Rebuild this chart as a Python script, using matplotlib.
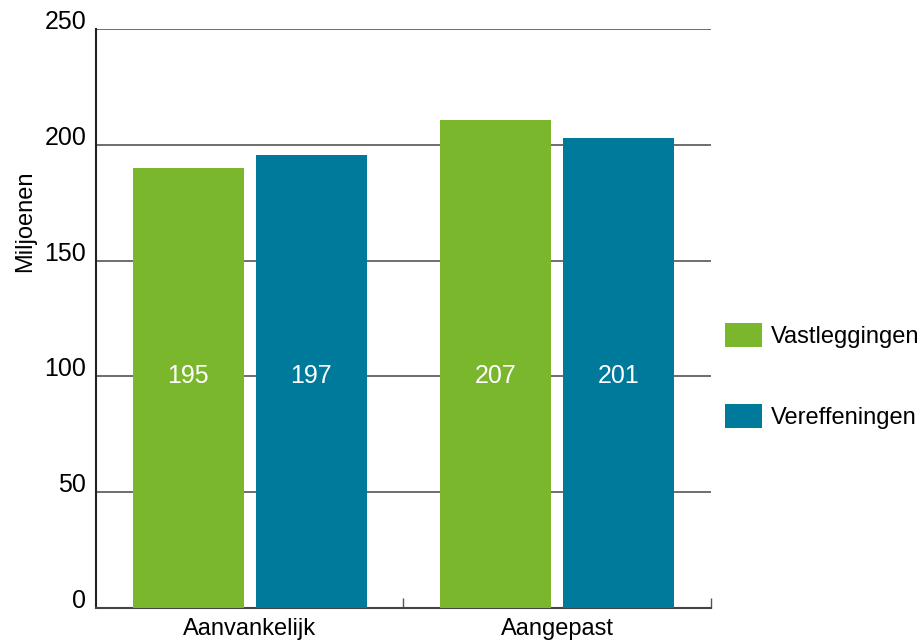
import matplotlib.pyplot as plt
import numpy as np

plt.rcParams['font.family'] = ['Liberation Sans', 'DejaVu Sans']

# Data
categories = ['Aanvankelijk', 'Aangepast']
series = ['Vastleggingen', 'Vereffeningen']
# bar heights as drawn in the chart
heights_vast = [190, 210.5]
heights_veref = [195.5, 203]
# value labels as printed in the bars
labels_vast = ['195', '207']
labels_veref = ['197', '201']
yticks = [0, 50, 100, 150, 200, 250]

green = '#7AB72C'
blue = '#007A9B'

fig = plt.figure(figsize=(9.2, 6.42), dpi=100)
ax = fig.add_axes([96 / 920, 34 / 642, 615 / 920, 579 / 642])

x = np.arange(len(categories))
w = 0.36
b1 = ax.bar(x - 0.2, heights_vast, w, color=green, label=series[0], zorder=3)
b2 = ax.bar(x + 0.2, heights_veref, w, color=blue, label=series[1], zorder=3)

# value labels in the middle of the bars
for bars, labs in [(b1, labels_vast), (b2, labels_veref)]:
    for rect, lab in zip(bars, labs):
        ax.text(rect.get_x() + rect.get_width() / 2, 100, lab, color='white',
                ha='center', va='center', fontsize=18, zorder=4)

ax.set_xlim(-0.5, 1.5)
ax.set_ylim(0, 250)
ax.set_yticks(yticks)
ax.yaxis.grid(True, color='#555555', linewidth=1.2, zorder=0)
ax.set_xticks(x)
ax.set_xticklabels(categories, fontsize=17)
ax.set_xticks([0.5, 1.5], minor=True)
ax.tick_params(axis='x', which='major', length=0, pad=7)
ax.tick_params(axis='x', which='minor', length=7, direction='in', width=1, color='#555555')
ax.tick_params(axis='y', length=0, pad=7, labelsize=18)
for lbl in ax.get_yticklabels():
    lbl.set_va('baseline')

for s in ['top', 'right']:
    ax.spines[s].set_visible(False)
ax.spines['left'].set_linewidth(1.5)
ax.spines['bottom'].set_linewidth(1.5)
ax.spines['bottom'].set_color('#444444')
ax.spines['left'].set_color('#222222')

ax.set_ylabel('Miljoenen', fontsize=17)
ax.yaxis.set_label_coords(-0.098, 0.668)

fig.legend(handles=[b1, b2], labels=series, loc='center left',
           bbox_to_anchor=(725 / 920, 1 - 376 / 642), frameon=False,
           fontsize=17, handlelength=1.57, handleheight=1.19,
           labelspacing=2.4, handletextpad=0.38, borderpad=0, borderaxespad=0)

fig.savefig('out.png', dpi=100)
